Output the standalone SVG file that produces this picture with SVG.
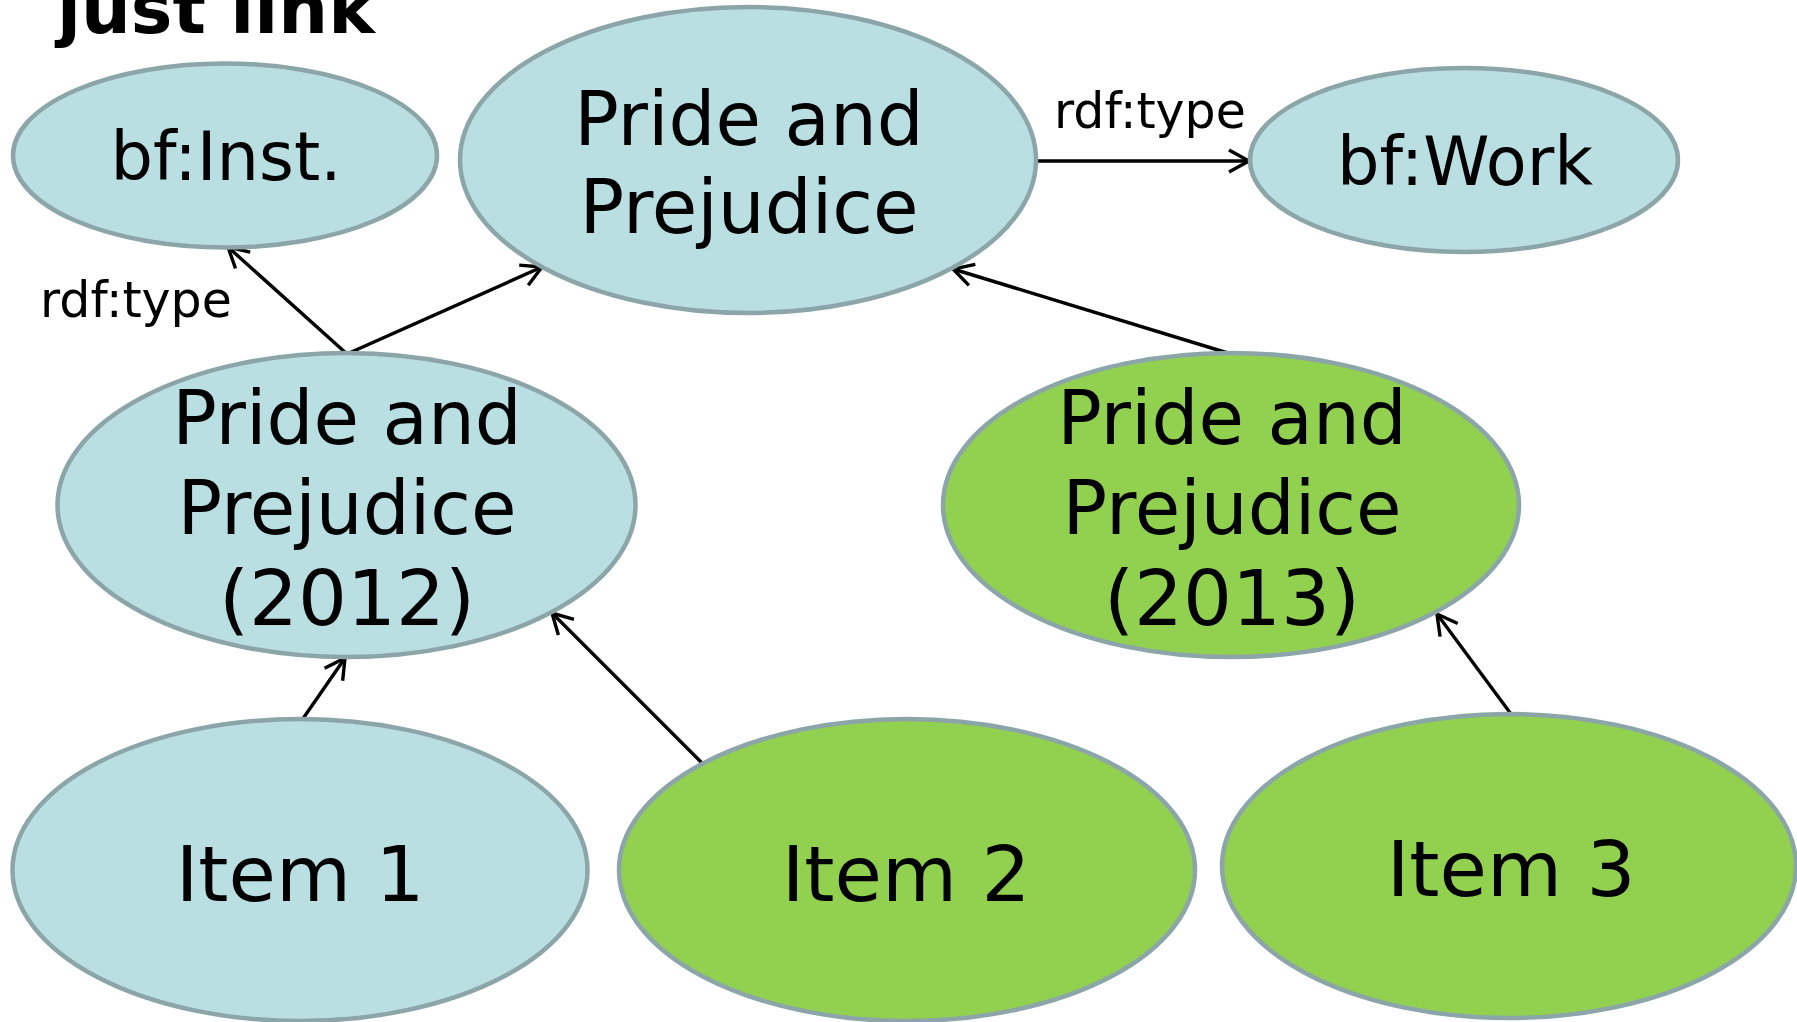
<svg xmlns="http://www.w3.org/2000/svg" width="1797" height="1022" viewBox="0 0 1797 1022">
  <style>
    .blue { fill: #b9dfe3; stroke: #8ba5a8; stroke-width: 4.5; }
    .green { fill: #92d050; stroke: #8ba5a8; stroke-width: 4.5; }
    .lbl { font-family: "DejaVu Sans", Verdana, sans-serif; font-size: 74px; fill: #000; text-anchor: middle; }
    .num { font-size: 77px; }
    .cls { font-family: "DejaVu Sans", Verdana, sans-serif; font-size: 67px; fill: #000; text-anchor: middle; }
    .edge { font-family: "DejaVu Sans", Verdana, sans-serif; font-size: 49px; fill: #000; }
    .title { font-family: "DejaVu Sans", Verdana, sans-serif; font-size: 70px; font-weight: bold; fill: #000; }
    .conn { stroke: #000; stroke-width: 3.4; fill: none; marker-end: url(#arrow); }
  </style>
  <defs>
    <marker id="arrow" markerUnits="userSpaceOnUse" viewBox="-24 -14 27 28" markerWidth="27" markerHeight="28" refX="0" refY="0" orient="auto">
      <path d="M-20,-11 L0,0 L-20,11" fill="none" stroke="#000" stroke-width="3.4"/>
    </marker>
  </defs>
  <rect width="1797" height="1022" fill="#fff"/>
  <text class="title" x="57" y="33">just link</text>

  <g id="connectors">
    <line class="conn" x1="347" y1="354" x2="228" y2="247"/>
    <line class="conn" x1="347" y1="354" x2="542" y2="267"/>
    <line class="conn" x1="1231" y1="354" x2="953" y2="269"/>
    <line class="conn" x1="1036" y1="161" x2="1249" y2="161"/>
    <line class="conn" x1="302" y1="720" x2="345" y2="658"/>
    <line class="conn" x1="703" y1="764" x2="552" y2="613"/>
    <line class="conn" x1="1511" y1="714" x2="1437" y2="614"/>
    <text class="edge" x="1054" y="128">rdf:type</text>
    <text class="edge" x="40" y="317">rdf:type</text>
  </g>

  <g id="inst">
    <ellipse class="blue" cx="225" cy="155.5" rx="212" ry="92"/>
    <text class="cls" x="226" y="180">bf:Inst.</text>
  </g>
  <g id="work-pp">
    <ellipse class="blue" cx="748" cy="160" rx="288" ry="153"/>
    <text class="lbl" x="749" y="145">Pride and</text>
    <text class="lbl" x="749" y="233">Prejudice</text>
  </g>
  <g id="bfwork">
    <ellipse class="blue" cx="1464" cy="160" rx="214" ry="92"/>
    <text class="cls" x="1465" y="185">bf:Work</text>
  </g>
  <g id="inst2012">
    <ellipse class="blue" cx="346.5" cy="505" rx="289" ry="152"/>
    <text class="lbl" x="347" y="444">Pride and</text>
    <text class="lbl" x="347" y="534">Prejudice</text>
    <text class="lbl num" x="347" y="625">(2012)</text>
  </g>
  <g id="inst2013">
    <ellipse class="green" cx="1231" cy="505" rx="288" ry="152"/>
    <text class="lbl" x="1232" y="444">Pride and</text>
    <text class="lbl" x="1232" y="534">Prejudice</text>
    <text class="lbl num" x="1232" y="625">(2013)</text>
  </g>
  <g id="item1">
    <ellipse class="blue" cx="300" cy="870" rx="287.5" ry="151"/>
    <text class="lbl num" x="300" y="901">Item 1</text>
  </g>
  <g id="item2">
    <ellipse class="green" cx="907" cy="870" rx="288" ry="151"/>
    <text class="lbl num" x="906" y="901">Item 2</text>
  </g>
  <g id="item3">
    <ellipse class="green" cx="1509" cy="866" rx="287" ry="152"/>
    <text class="lbl num" x="1511" y="896">Item 3</text>
  </g>
</svg>
